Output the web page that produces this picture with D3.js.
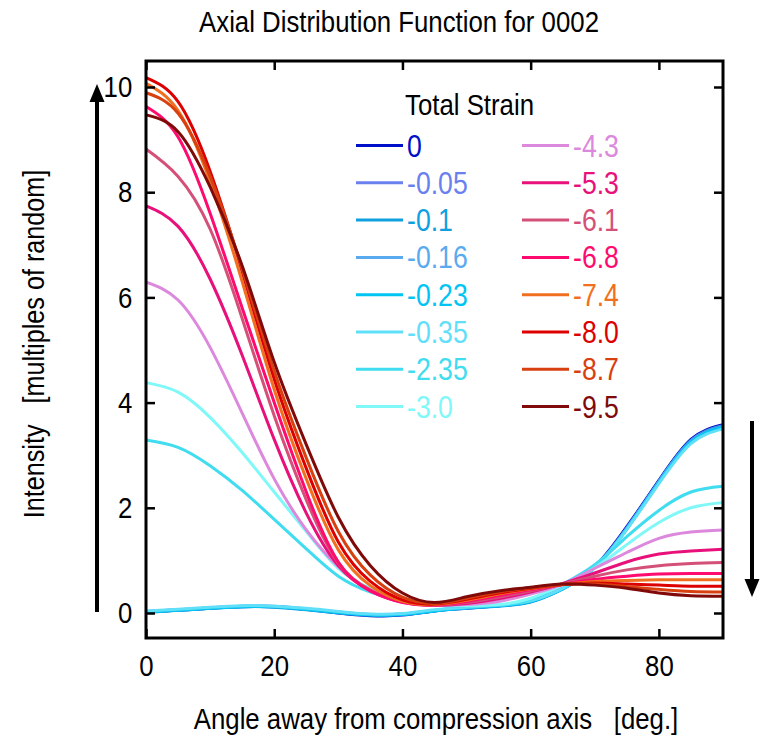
<!DOCTYPE html>
<html>
<head>
<meta charset="utf-8">
<script src="https://cdn.jsdelivr.net/npm/d3@7/dist/d3.min.js"></script>
<style>
  body { margin: 0; background: #fff; }
  svg text { font-family: "Liberation Sans", Arial, sans-serif; }
</style>
</head>
<body>
<svg width="763" height="740"></svg>
<script>
// Data =====================================================
let angles = [0, 5, 10, 15, 20, 25, 30, 35, 40, 45, 50, 55, 60, 65, 70, 75, 80, 85, 90];

let strains = ["0", "-0.05", "-0.1", "-0.16", "-0.23", "-0.35", "-2.35", "-3.0",
               "-4.3", "-5.3", "-6.1", "-6.8", "-7.4", "-8.0", "-8.7", "-9.5"];

let colors = ["#0010c8", "#6a80ee", "#10a0e0", "#5aaaf0", "#00c4f2", "#60e0f8", "#40dcf0", "#80f8f8",
              "#dc88dc", "#e8107a", "#d45078", "#ff0a6e", "#f07020", "#dc0000", "#d84010", "#800a0a"];

let s0    = [0.02, 0.05, 0.09, 0.12, 0.12, 0.07, 0.00, -0.05, -0.04, 0.04, 0.09, 0.14, 0.22, 0.47, 0.88, 1.64, 2.52, 3.30, 3.58];
let s005  = [0.03, 0.06, 0.10, 0.13, 0.12, 0.07, 0.01, -0.03, -0.02, 0.05, 0.10, 0.14, 0.22, 0.46, 0.87, 1.62, 2.50, 3.28, 3.56];
let s01   = [0.01, 0.05, 0.09, 0.12, 0.11, 0.06, 0.00, -0.04, -0.03, 0.04, 0.09, 0.13, 0.21, 0.46, 0.86, 1.60, 2.49, 3.27, 3.55];
let s016  = [0.03, 0.06, 0.10, 0.13, 0.13, 0.08, 0.02, -0.03, -0.02, 0.05, 0.10, 0.15, 0.23, 0.47, 0.87, 1.61, 2.50, 3.26, 3.54];
let s023  = [0.02, 0.05, 0.09, 0.12, 0.12, 0.07, 0.01, -0.04, -0.03, 0.04, 0.10, 0.14, 0.22, 0.46, 0.86, 1.60, 2.48, 3.25, 3.53];
let s035  = [0.04, 0.07, 0.11, 0.14, 0.13, 0.09, 0.03, -0.02, -0.01, 0.06, 0.11, 0.15, 0.23, 0.47, 0.86, 1.59, 2.46, 3.22, 3.50];
let s235  = [3.29, 3.15, 2.80, 2.33, 1.78, 1.22, 0.70, 0.40, 0.24, 0.15, 0.13, 0.15, 0.26, 0.55, 0.92, 1.45, 1.95, 2.30, 2.41];
let s30   = [4.38, 4.20, 3.72, 3.05, 2.30, 1.55, 0.85, 0.47, 0.27, 0.17, 0.14, 0.16, 0.28, 0.54, 0.86, 1.30, 1.72, 2.00, 2.10];
let s43   = [6.29, 5.95, 5.05, 3.80, 2.55, 1.58, 0.88, 0.42, 0.22, 0.15, 0.16, 0.22, 0.36, 0.55, 0.85, 1.15, 1.42, 1.54, 1.58];
let s53   = [7.74, 7.35, 6.35, 4.90, 3.30, 1.90, 0.90, 0.42, 0.21, 0.15, 0.18, 0.27, 0.40, 0.56, 0.76, 0.97, 1.12, 1.18, 1.21];
let s61   = [8.82, 8.30, 7.30, 5.60, 3.75, 2.15, 0.95, 0.44, 0.21, 0.15, 0.20, 0.30, 0.42, 0.55, 0.70, 0.82, 0.90, 0.94, 0.96];
let s68   = [9.63, 9.05, 7.60, 5.80, 4.00, 2.30, 0.97, 0.42, 0.20, 0.15, 0.22, 0.33, 0.44, 0.54, 0.64, 0.70, 0.74, 0.75, 0.75];
let s74   = [10.07, 9.55, 8.20, 6.30, 4.25, 2.55, 1.20, 0.52, 0.22, 0.16, 0.24, 0.36, 0.46, 0.54, 0.60, 0.62, 0.63, 0.63, 0.63];
let s80   = [10.18, 9.72, 8.40, 6.50, 4.45, 2.75, 1.35, 0.60, 0.25, 0.17, 0.26, 0.38, 0.47, 0.54, 0.57, 0.55, 0.53, 0.51, 0.51];
let s87   = [9.89, 9.50, 8.30, 6.55, 4.60, 2.95, 1.55, 0.72, 0.30, 0.18, 0.28, 0.40, 0.48, 0.54, 0.55, 0.50, 0.45, 0.41, 0.40];
let s95   = [9.47, 9.15, 8.10, 6.60, 4.77, 3.20, 1.82, 0.90, 0.38, 0.20, 0.31, 0.42, 0.49, 0.55, 0.53, 0.47, 0.38, 0.33, 0.32];

let seriesValues = [s0, s005, s01, s016, s023, s035, s235, s30, s43, s53, s61, s68, s74, s80, s87, s95];

let xTicks = [0, 20, 40, 60, 80];
let yTicks = [0, 2, 4, 6, 8, 10];

// Layout ===================================================
var svg = d3.select("svg");
var plotLeft = 146, plotRight = 723, plotTop = 61, plotBottom = 638;
var narrow = 0.86;   // text in the figure is a condensed face

var x = d3.scaleLinear().domain([0, 90]).range([plotLeft, plotRight]);
var y = d3.scaleLinear().domain([0, 10]).range([613, 87]);

// draws condensed text by squeezing a normal face horizontally
function label(parent, px, py, str, opts) {
  opts = opts || {};
  var t = "translate(" + px + "," + py + ")" + (opts.rotate ? " rotate(" + opts.rotate + ")" : "") +
          " scale(" + (opts.sx || narrow) + ",1)";
  return parent.append("text")
    .attr("transform", t)
    .attr("text-anchor", opts.anchor || "start")
    .attr("font-size", opts.size || 30)
    .attr("fill", opts.fill || "#000")
    .style("white-space", "pre")
    .text(str);
}

// title
label(svg, 399, 32, "Axial Distribution Function for 0002", {anchor: "middle", size: 30});

// curves
var line = d3.line()
  .x(function(d, i) { return x(angles[i]); })
  .y(function(d) { return y(d); })
  .curve(d3.curveNatural);

var curves = svg.append("g").attr("class", "curves");
seriesValues.forEach(function(vals, i) {
  curves.append("path")
    .attr("d", line(vals))
    .attr("fill", "none")
    .attr("stroke", colors[i])
    .attr("stroke-width", 3)
    .attr("stroke-linejoin", "round");
});

// axes (ticks pointing inward)
var axisG = svg.append("g").attr("class", "axes");

axisG.append("g")
  .attr("transform", "translate(" + plotLeft + ",0)")
  .call(d3.axisLeft(y).tickValues(yTicks).tickSize(-9).tickPadding(16).tickFormat(d3.format("d")));

axisG.append("g")
  .attr("transform", "translate(" + plotRight + ",0)")
  .call(d3.axisRight(y).tickValues(yTicks).tickSize(-9).tickFormat(""));

axisG.append("g")
  .attr("transform", "translate(0," + plotBottom + ")")
  .call(d3.axisBottom(x).tickValues(xTicks).tickSize(-9).tickPadding(17).tickFormat(d3.format("d")));

axisG.append("g")
  .attr("transform", "translate(0," + plotTop + ")")
  .call(d3.axisTop(x).tickValues(xTicks).tickSize(-9).tickFormat(""));

axisG.selectAll(".domain").remove();
axisG.selectAll(".tick line").attr("stroke", "#000").attr("stroke-width", 2.5);
axisG.selectAll(".tick text")
  .attr("font-size", 30)
  .attr("fill", "#000")
  .attr("font-family", "'Liberation Sans', Arial, sans-serif")
  .attr("transform", "scale(" + narrow + ",1)");

svg.append("rect")
  .attr("x", plotLeft).attr("y", plotTop)
  .attr("width", plotRight - plotLeft).attr("height", plotBottom - plotTop)
  .attr("fill", "none")
  .attr("stroke", "#000")
  .attr("stroke-width", 3);

// axis titles
label(svg, 436, 729, "Angle away from compression axis   [deg.]", {anchor: "middle", size: 30});
label(svg, 44, 344, "Intensity   [multiples of random]", {anchor: "middle", size: 30, rotate: -90, sx: 0.84});

// arrows
function arrow(x0, y0, y1) {
  var dir = y1 < y0 ? 1 : -1;
  svg.append("line")
    .attr("x1", x0).attr("y1", y0)
    .attr("x2", x0).attr("y2", y1 + dir * 12)
    .attr("stroke", "#000").attr("stroke-width", 4);
  svg.append("path")
    .attr("d", "M" + x0 + "," + y1 + "L" + (x0 - 7.5) + "," + (y1 + dir * 18) +
               "L" + (x0 + 7.5) + "," + (y1 + dir * 18) + "Z")
    .attr("fill", "#000");
}
arrow(97, 612, 84);
arrow(752, 421, 597);

// legend
var legend = svg.append("g").attr("class", "legend");
label(legend, 405, 115, "Total Strain", {size: 30});

strains.forEach(function(s, i) {
  var col = Math.floor(i / 8), row = i % 8;
  var lx = col == 0 ? 356 : 522;
  var ly = 145.5 + row * 37.3;
  legend.append("line")
    .attr("x1", lx).attr("x2", lx + 47)
    .attr("y1", ly).attr("y2", ly)
    .attr("stroke", colors[i]).attr("stroke-width", 3);
  label(legend, lx + 51, ly + 11, s, {size: 31, fill: colors[i]});
});
</script>
</body>
</html>
